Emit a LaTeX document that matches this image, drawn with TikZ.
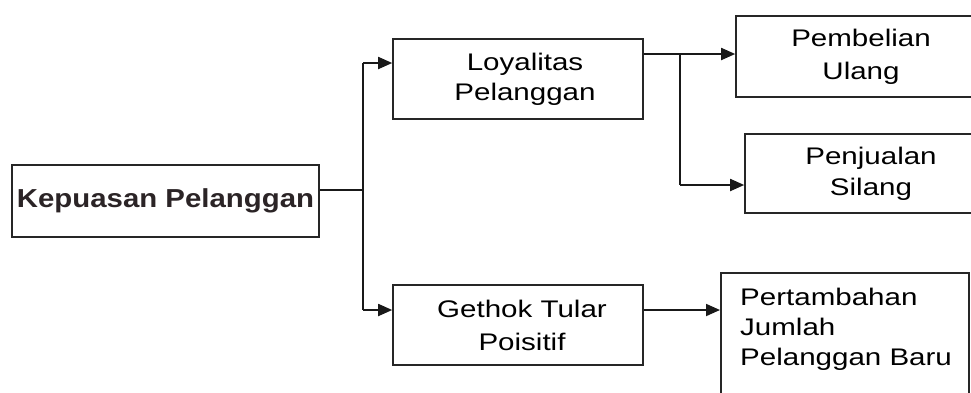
\documentclass[tikz,border=0pt]{standalone}
\usepackage{fontspec}
\setmainfont[FakeStretch=1.23]{Liberation Sans}
\newfontfamily\kepfont[FakeStretch=1.13]{Liberation Sans}
\usetikzlibrary{arrows.meta}
\definecolor{kepcol}{HTML}{2B2426}
\begin{document}
\begin{tikzpicture}[x=1pt,y=-1pt,
  box/.style={draw=black!85,line width=1.6pt,rectangle,inner sep=0pt,font=\fontsize{24}{31}\selectfont,align=center},
  conn/.style={line width=1.8pt,draw=black!90},
  arr/.style={conn,-{Triangle[length=14pt,width=12pt]}}]
\useasboundingbox (0,0) rectangle (971,392);
\node[box,minimum width=307pt,minimum height=72pt,text=kepcol,font=\fontsize{26}{32}\kepfont\bfseries] (kep) at (165.5,201) {Kepuasan Pelanggan};
\node[box,minimum width=250pt,minimum height=80pt,font=\fontsize{24}{30}\selectfont] (loy) at (518,79) {\hspace*{14pt}Loyalitas\\\hspace*{14pt}Pelanggan};
\node[box,minimum width=254pt,minimum height=81pt,font=\fontsize{24}{33}\selectfont] (pem) at (863,56.5) {\hspace*{-4pt}Pembelian\\\hspace*{-4pt}Ulang};
\node[box,minimum width=245pt,minimum height=79pt,font=\fontsize{24}{31}\selectfont] (pen) at (867.5,173.5) {\hspace*{7pt}Penjualan\\\hspace*{7pt}Silang};
\node[box,minimum width=250pt,minimum height=80pt,font=\fontsize{24}{33}\selectfont] (get) at (518,325) {\hspace*{8pt}Gethok Tular\\\hspace*{8pt}Poisitif};
\node[box,minimum width=248pt,minimum height=140pt,anchor=north west] (per) at (720,272) {};
\node[font=\fontsize{24}{30}\selectfont,align=left,anchor=north west,inner sep=0pt] (pertext) at (740,287.5) {Pertambahan\\Jumlah\\Pelanggan Baru};
\coordinate (j1) at (363,190);
\coordinate (jt) at (363,63);
\coordinate (jb) at (363,310);
\coordinate (j2) at (680,54);
\coordinate (j2b) at (680,185);
\draw[conn] (kep.east |- j1) -- (j1);
\draw[conn] (jt) -- (jb);
\draw[arr] (jt) -- (loy.west |- jt);
\draw[arr] (jb) -- (get.west |- jb);
\draw[conn] (loy.east |- j2) -- (j2);
\draw[arr] (j2) -- (pem.west |- j2);
\draw[conn] (j2) -- (j2b);
\draw[arr] (j2b) -- (pen.west |- j2b);
\draw[arr] (get.east |- jb) -- (per.west |- jb);
\end{tikzpicture}
\end{document}
